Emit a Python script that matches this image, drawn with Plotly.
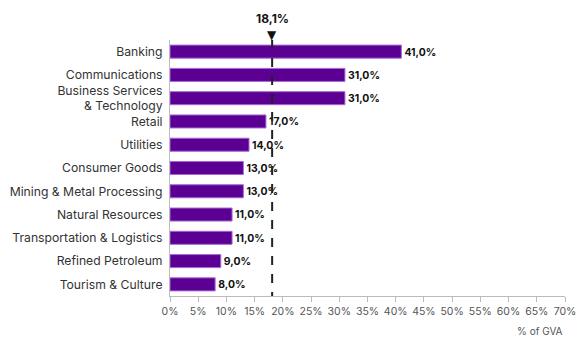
import plotly.graph_objects as go

categories = ["Banking", "Communications", "Business Services<br>& Technology", "Retail",
              "Utilities", "Consumer Goods", "Mining & Metal Processing", "Natural Resources",
              "Transportation & Logistics", "Refined Petroleum", "Tourism & Culture"]
values = [41.0, 31.0, 31.0, 17.0, 14.0, 13.0, 13.0, 11.0, 11.0, 9.0, 8.0]
average = 18.1
x_ticks = list(range(0, 71, 5))
x_tick_labels = [f"{t}%" for t in x_ticks]

idx = list(range(len(categories)))
fig = go.Figure()
fig.add_trace(go.Bar(
    x=values, y=idx, orientation="h",
    marker=dict(color="#5b0093", line=dict(color="#a36ad6", width=1)),
    text=[f"{v:.1f}%".replace(".", ",") for v in values],
    textposition="outside", cliponaxis=False,
    textfont=dict(family="Inter", size=12, color="#111111", weight="bold"),
    width=0.56, hoverinfo="skip",
))
fig.add_shape(type="line", x0=average, x1=average, y0=-0.5, y1=10.5, xref="x", yref="y",
              line=dict(color="#222222", width=2, dash="dash"))
fig.add_annotation(x=average, y=1.018, xref="x", yref="paper", yanchor="middle", text="▼",
                   showarrow=False, font=dict(family="DejaVu Sans", size=12, color="#111111"))
fig.add_annotation(x=average, y=1.085, xref="x", yref="paper", yanchor="middle",
                   text=f"{average:.1f}%".replace(".", ","),
                   showarrow=False, font=dict(family="Inter", size=12, color="#111111", weight="bold"))
fig.add_annotation(x=1, y=-0.138, xref="paper", yref="paper", xanchor="right", yanchor="middle",
                   text="% of GVA", showarrow=False,
                   font=dict(family="Inter", size=10, color="#555555"))

fig.update_layout(
    width=577, height=338, margin=dict(l=170, r=12, t=40, b=42),
    plot_bgcolor="white", paper_bgcolor="white", showlegend=False,
    font=dict(family="Inter", color="#333333"),
    xaxis=dict(range=[0, 70], tickvals=x_ticks, ticktext=x_tick_labels, showgrid=False, zeroline=False,
               showline=True, linecolor="#bbbbbb", linewidth=1, ticks="outside", ticklen=5,
               tickcolor="#bbbbbb", tickfont=dict(size=10.5, color="#555555"), automargin=False),
    yaxis=dict(range=[10.5, -0.5], tickvals=idx, ticktext=categories, showgrid=False, zeroline=False,
               showline=True, linecolor="#bbbbbb", linewidth=1, ticks="", ticklabelstandoff=4,
               tickfont=dict(size=12.2, color="#333333"), automargin=False),
)
fig.write_html("out.html")
